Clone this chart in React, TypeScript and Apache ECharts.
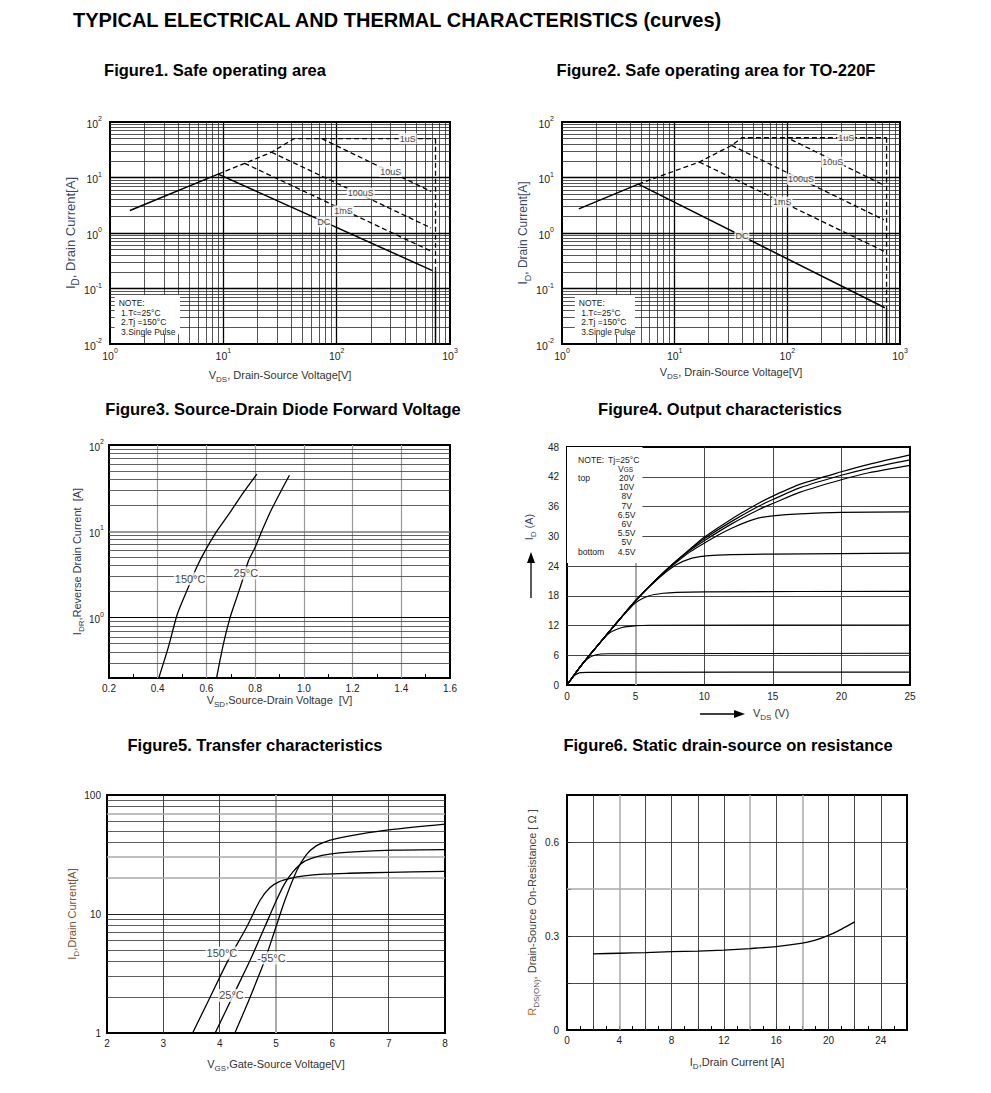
import React, { useEffect, useRef } from 'react';
import * as echarts from 'echarts';

const FONT = '"Liberation Sans", Arial, sans-serif';

// ---------- Figure 1: Safe operating area ----------
const f1DC = [[1.5, 2.55], [9, 11.5], [700, 0.21]];
const f1Envelope = [[9, 11.5], [15.4, 18], [26.6, 28.5], [42, 50], [745, 50]];
const f1VdssDashed = [[745, 50], [745, 0.21]];
const f1VdssSolid = [[745, 0.21], [745, 0.01]];
const f1_10us = [[74, 50], [682, 5.6]];
const f1_100us = [[26.6, 28.5], [682, 1.23]];
const f1_1ms = [[15.4, 18], [682, 0.47]];
const f1Labels: [number, number, string][] = [[423, 50, '1uS'], [300, 12.8, '10uS'], [163, 5.2, '100uS'], [115, 2.5, '1mS'], [77, 1.58, 'DC']];
const f1NoteBox = [[1.1, 0.076], [4.15, 0.015]];

// ---------- Figure 2: Safe operating area for TO-220F ----------
const f2DC = [[1.41, 2.72], [4.76, 7.6], [734, 0.045]];
const f2Envelope = [[4.76, 7.6], [16.5, 19], [32, 37.8], [39.5, 52], [760, 52]];
const f2VdssDashed = [[760, 52], [760, 0.045]];
const f2VdssSolid = [[760, 0.045], [760, 0.01]];
const f2_10us = [[108, 48], [719, 7.3]];
const f2_100us = [[32, 37.8], [719, 1.73]];
const f2_1ms = [[16.5, 19], [719, 0.47]];
const f2Labels: [number, number, string][] = [[333, 52, '1uS'], [253, 19, '10uS'], [132, 9.3, '100uS'], [90, 3.6, '1mS'], [39.5, 0.9, 'DC']];
const f2NoteBox = [[1.3, 0.076], [4.44, 0.015]];

// ---------- Figure 3: Source-Drain diode forward voltage ----------
const f3T150 = [[0.405, 0.203], [0.444, 0.459], [0.481, 1.11], [0.526, 2.26], [0.56, 3.84], [0.595, 5.98], [0.642, 10.0], [0.697, 16.6], [0.752, 28.2], [0.807, 45.9]];
const f3T25 = [[0.642, 0.203], [0.67, 0.5], [0.697, 1.0], [0.725, 1.73], [0.752, 2.94], [0.773, 4.58], [0.8, 6.54], [0.827, 10.0], [0.868, 18.1], [0.91, 30.7], [0.941, 44.7]];
const f3Labels: [number, number, string][] = [[0.533, 2.82, '150°C'], [0.762, 3.28, '25°C']];

// ---------- Figure 4: Output characteristics ----------
const f4_20V = [[0, 0], [1, 3.8], [2, 7.2], [3, 10.5], [4, 13.8], [5, 17], [6, 19.9], [7, 22.6], [8, 25.1], [9, 27.5], [10, 29.8], [12, 33.5], [14, 36.7], [15, 38.1], [17, 40.5], [20, 43], [22, 44.5], [25, 46.4]];
const f4_10V = [[0, 0], [1, 3.8], [2, 7.2], [3, 10.5], [4, 13.8], [5, 17], [6, 19.9], [7, 22.6], [8, 25.1], [9, 27.4], [10, 29.5], [12, 33.0], [14, 36.1], [15, 37.4], [17, 39.8], [20, 42.3], [22, 43.7], [25, 45.4]];
const f4_8V = [[0, 0], [1, 3.8], [2, 7.2], [3, 10.5], [4, 13.8], [5, 17], [6, 19.9], [7, 22.6], [8, 25.0], [9, 27.2], [10, 29.1], [12, 32.5], [14, 35.4], [15, 36.6], [17, 38.9], [20, 41.4], [22, 42.8], [25, 44.3]];
const f4_7V = [[0, 0], [1, 3.8], [2, 7.2], [3, 10.5], [4, 13.8], [5, 17], [6, 19.9], [7, 22.5], [8, 24.8], [9, 26.9], [10, 28.6], [11, 30.2], [12, 31.6], [13, 32.8], [14, 33.7], [15, 34.1], [17, 34.5], [20, 34.8], [25, 34.9]];
const f4_6V5 = [[0, 0], [1, 3.8], [2, 7.2], [3, 10.5], [4, 13.8], [5, 17], [6, 19.8], [7, 22.3], [8, 24.3], [9, 25.5], [10, 26.0], [11, 26.2], [12, 26.3], [15, 26.4], [20, 26.5], [25, 26.6]];
const f4_6V = [[0, 0], [1, 3.8], [2, 7.2], [3, 10.5], [4, 13.7], [5, 16.6], [6, 18.0], [7, 18.5], [8, 18.7], [10, 18.8], [25, 18.9]];
const f4_5V5 = [[0, 0], [1, 3.8], [2, 7.2], [3, 10.3], [4, 11.6], [5, 11.95], [6, 12.05], [25, 12.1]];
const f4_5V = [[0, 0], [1, 3.8], [1.5, 5.3], [2, 6.0], [2.5, 6.25], [3, 6.3], [25, 6.4]];
const f4_4V5 = [[0, 0], [0.5, 1.8], [0.8, 2.35], [1, 2.5], [1.5, 2.55], [25, 2.6]];
const f4Curves = [f4_20V, f4_10V, f4_8V, f4_7V, f4_6V5, f4_6V, f4_5V5, f4_5V, f4_4V5];
const f4VgsLabels = ['20V', '10V', '8V', '7V', '6.5V', '6V', '5.5V', '5V', '4.5V'];
const f4NoteBox = [[0, 48], [5.5, 24.6]];

// ---------- Figure 5: Transfer characteristics ----------
const f5T150 = [[3.52, 1], [3.83, 2.0], [4.15, 4.08], [4.48, 7.77], [4.72, 13.1], [4.89, 16.6], [5.05, 18.6], [5.25, 19.9], [5.5, 20.9], [5.84, 21.6], [6.3, 22.0], [7, 22.4], [8, 22.8]];
const f5T25 = [[3.92, 1], [4.24, 2.07], [4.54, 4.08], [4.8, 7.77], [5.01, 13.1], [5.15, 17.8], [5.3, 22.6], [5.49, 27.4], [5.7, 30.0], [5.95, 31.8], [6.31, 33.1], [7.08, 34.4], [8, 34.8]];
const f5Tm55 = [[4.27, 1], [4.54, 2.0], [4.8, 4.08], [4.98, 7.3], [5.16, 13.1], [5.37, 23.2], [5.54, 31.5], [5.7, 37.0], [5.9, 40.8], [6.15, 43.8], [6.49, 47.0], [7, 51.0], [8, 57]];
const f5Labels: [number, number, string][] = [[4.04, 4.7, '150°C'], [4.21, 2.07, '25°C'], [4.92, 4.27, '-55°C']];

// ---------- Figure 6: Static drain-source on resistance ----------
const f6Rds = [[2, 0.243], [4, 0.245], [6, 0.247], [8, 0.25], [10, 0.252], [12, 0.255], [14, 0.26], [16, 0.266], [18, 0.277], [19, 0.287], [20, 0.302], [21, 0.322], [22, 0.345]];

// ---------- helpers ----------
function logMinors(lo: number, hi: number) {
  const out: number[] = [];
  for (let e = lo; e < hi; e++) for (let d = 2; d <= 9; d++) out.push(+(d * Math.pow(10, e)).toPrecision(6));
  return out;
}
function range(a: number, b: number, step: number) {
  const out: number[] = [];
  for (let v = a; v <= b + 1e-9; v += step) out.push(+v.toFixed(6));
  return out;
}
const vLines = (vals: number[], color: string, width: number) => vals.map((v) => ({ xAxis: v, lineStyle: { color, width, type: 'solid' } }));
const hLines = (vals: number[], color: string, width: number) => vals.map((v) => ({ yAxis: v, lineStyle: { color, width, type: 'solid' } }));

function gridSeries(idx: number, items: any[]) {
  return {
    type: 'line', xAxisIndex: idx, yAxisIndex: idx, data: [], silent: true,
    markLine: { silent: true, z: 1, symbol: ['none', 'none'], animation: false, label: { show: false }, emphasis: { disabled: true }, data: items },
  };
}
function curve(idx: number, data: number[][], dashed = false, smooth: number | boolean = false, width = 1.3) {
  return {
    type: 'line', xAxisIndex: idx, yAxisIndex: idx, data, symbol: 'none', showSymbol: false, z: 3, silent: true,
    smooth,
    lineStyle: { color: '#000', width, type: dashed ? [5, 3] : 'solid' },
  };
}
function labels(idx: number, items: [number, number, string][], fontSize: number) {
  return {
    type: 'scatter', xAxisIndex: idx, yAxisIndex: idx, z: 4, silent: true, symbolSize: 1,
    itemStyle: { color: 'rgba(0,0,0,0)' },
    data: items.map(([x, y, t]) => ({ value: [x, y], name: t })),
    label: { show: true, position: 'inside', formatter: '{b}', color: '#111', fontSize, fontFamily: FONT, backgroundColor: '#fff', padding: [1, 1] },
  };
}
function boxSeries(idx: number, box: number[][], text: string, rich: any, padding: number[]) {
  return {
    type: 'line', xAxisIndex: idx, yAxisIndex: idx, data: [], silent: true,
    markArea: {
      silent: true, z: 2, itemStyle: { color: '#fff' },
      label: { show: true, position: 'insideTopLeft', distance: 0, padding, formatter: () => text, rich },
      data: [[{ coord: box[0] }, { coord: box[1] }]],
    },
  };
}

const sup = (v: number) => {
  const l = Math.log10(v);
  const e = Math.round(l);
  if (Math.abs(l - e) > 1e-6) return '';
  return `{b|10}{e|${e}}`;
};
const supRich = (fs: number) => ({
  b: { fontSize: fs, lineHeight: 14, verticalAlign: 'bottom', fontFamily: FONT, color: '#222' },
  e: { fontSize: 7, lineHeight: 8, verticalAlign: 'top', fontFamily: FONT, color: '#222' },
});
const nameRich = (color: string, fs = 11) => ({
  n: { fontSize: fs, lineHeight: fs + 3, verticalAlign: 'top', fontFamily: FONT, color },
  s: { fontSize: fs - 3, lineHeight: fs - 2, verticalAlign: 'bottom', fontFamily: FONT, color },
});

const noteRich = {
  a: { fontSize: 8.5, lineHeight: 9.6, fontFamily: FONT, color: '#222' },
  s: { fontSize: 6.5, lineHeight: 9.6, fontFamily: FONT, color: '#222' },
};
const noteText = '{a|NOTE:}\n{a| 1.T}{s|c}{a|=25°C}\n{a| 2.Tj =150°C}\n{a| 3.Single Pulse}';

const F4FS = 8.6;
const f4Rich = {
  n0: { width: 30, fontSize: F4FS, lineHeight: 9.2, fontFamily: FONT, color: '#222' },
  t: { fontSize: F4FS, lineHeight: 9.2, fontFamily: FONT, color: '#222' },
  sp: { width: 40, fontSize: F4FS, lineHeight: 9.2, fontFamily: FONT },
  v: { fontSize: F4FS, lineHeight: 9.2, fontFamily: FONT, color: '#222' },
  vs: { fontSize: 6.5, lineHeight: 8, verticalAlign: 'bottom', fontFamily: FONT, color: '#222' },
  l: { width: 36, fontSize: F4FS, lineHeight: 9.2, fontFamily: FONT, color: '#222' },
  r: { width: 24, align: 'center', fontSize: F4FS, lineHeight: 9.2, fontFamily: FONT, color: '#222' },
};
const f4NoteText = [
  '{n0|NOTE:}{t|Tj=25°C}',
  '{sp| }{v|V}{vs|GS}',
  ...f4VgsLabels.map((v, i) => `{l|${i === 0 ? 'top' : i === f4VgsLabels.length - 1 ? 'bottom' : ' '}}{r|${v}}`),
].join('\n');

function buildOption(): any {
  const grids = [
    { left: 110, top: 122, width: 340, height: 222 },
    { left: 562, top: 122, width: 338, height: 222 },
    { left: 109, top: 445, width: 341, height: 233 },
    { left: 567, top: 447, width: 343, height: 238 },
    { left: 107, top: 795, width: 338, height: 238 },
    { left: 567, top: 795, width: 340, height: 235 },
  ].map((g) => ({ ...g, show: true, borderColor: '#000', borderWidth: 2, backgroundColor: 'transparent' }));

  const baseLabel = { fontFamily: FONT, fontSize: 10, color: '#222' };
  const off = { show: false };

  const xAxis: any[] = [
    {
      gridIndex: 0, type: 'log', logBase: 10, min: 1, max: 1000, axisLine: off, axisTick: off, splitLine: off,
      axisLabel: { ...baseLabel, margin: 3, formatter: sup, rich: supRich(10.5) },
      name: '{n|V}{s|DS}{n|, Drain-Source Voltage[V]}', nameLocation: 'middle', nameGap: 25, nameTextStyle: { rich: nameRich('#333') },
    },
    {
      gridIndex: 1, type: 'log', logBase: 10, min: 1, max: 1000, axisLine: off, axisTick: off, splitLine: off,
      axisLabel: { ...baseLabel, margin: 3, formatter: sup, rich: supRich(10.5) },
      name: '{n|V}{s|DS}{n|, Drain-Source Voltage[V]}', nameLocation: 'middle', nameGap: 22, nameTextStyle: { rich: nameRich('#333') },
    },
    {
      gridIndex: 2, type: 'value', min: 0.2, max: 1.6, interval: 0.2, axisLine: off, splitLine: off,
      axisTick: { show: true, inside: true, length: 4, lineStyle: { color: '#000' } },
      minorTick: { show: true, splitNumber: 2, length: 4, lineStyle: { color: '#000' } },
      axisLabel: { ...baseLabel, margin: 5, formatter: (v: number) => v.toFixed(1) },
      name: '{n|V}{s|SD}{n|,Source-Drain Voltage  [V]}', nameLocation: 'middle', nameGap: 16, nameTextStyle: { rich: nameRich('#333') },
    },
    {
      gridIndex: 3, type: 'value', min: 0, max: 25, interval: 5, axisLine: off, axisTick: off, splitLine: off,
      axisLabel: { ...baseLabel, margin: 6 },
      name: '{n|V}{s|DS}{n| (V)}', nameLocation: 'middle', nameGap: 22, nameTextStyle: { rich: nameRich('#333'), padding: [0, 0, 0, 65] },
    },
    {
      gridIndex: 4, type: 'value', min: 2, max: 8, interval: 1, axisLine: off, axisTick: off, splitLine: off,
      axisLabel: { ...baseLabel, margin: 5 },
      name: '{n|V}{s|GS}{n|,Gate-Source Voltage[V]}', nameLocation: 'middle', nameGap: 25, nameTextStyle: { rich: nameRich('#333') },
    },
    {
      gridIndex: 5, type: 'value', min: 0, max: 26, interval: 2, axisLine: off, splitLine: off,
      axisTick: { show: true, inside: true, length: 4, lineStyle: { color: '#000' } },
      minorTick: { show: true, splitNumber: 2, length: 4, lineStyle: { color: '#000' } },
      axisLabel: { ...baseLabel, margin: 5, formatter: (v: number) => (Math.round(v) % 4 === 0 ? String(Math.round(v)) : '') },
      name: '{n|I}{s|D}{n|,Drain Current [A]}', nameLocation: 'middle', nameGap: 26, nameTextStyle: { rich: nameRich('#333') },
    },
  ];

  const yAxis: any[] = [
    {
      gridIndex: 0, type: 'log', logBase: 10, min: 0.01, max: 100, axisLine: off, axisTick: off, splitLine: off,
      axisLabel: { ...baseLabel, margin: 8, formatter: sup, rich: supRich(10.5) },
      name: '{n|I}{s|D}{n|, Drain Current[A]}', nameLocation: 'middle', nameGap: 27, nameTextStyle: { rich: nameRich('#3b4a6b', 13) },
    },
    {
      gridIndex: 1, type: 'log', logBase: 10, min: 0.01, max: 100, axisLine: off, axisTick: off, splitLine: off,
      axisLabel: { ...baseLabel, margin: 8, formatter: sup, rich: supRich(10.5) },
      name: '{n|I}{s|D}{n|, Drain Current[A]}', nameLocation: 'middle', nameGap: 30, nameTextStyle: { rich: nameRich('#3b4a6b', 12) },
    },
    {
      gridIndex: 2, type: 'log', logBase: 10, min: 0.2, max: 100, axisLine: off, axisTick: off, splitLine: off,
      axisLabel: { ...baseLabel, margin: 5, formatter: sup, rich: supRich(10) },
      name: '{n|I}{s|DR}{n|,Reverse Drain Current  [A]}', nameLocation: 'middle', nameGap: 24, nameTextStyle: { rich: nameRich('#333a4d') },
    },
    {
      gridIndex: 3, type: 'value', min: 0, max: 48, interval: 6, axisLine: off, axisTick: off, splitLine: off,
      axisLabel: { ...baseLabel, margin: 8 },
      name: '{n|I}{s|D}{n| (A)}', nameLocation: 'middle', nameGap: 30, nameTextStyle: { rich: nameRich('#3b4a6b'), padding: [0, 0, 0, 78] },
    },
    {
      gridIndex: 4, type: 'log', logBase: 10, min: 1, max: 100, axisLine: off, axisTick: off, splitLine: off,
      axisLabel: { ...baseLabel, margin: 6 },
      name: '{n|I}{s|D}{n|,Drain Current[A]}', nameLocation: 'middle', nameGap: 24, nameTextStyle: { rich: nameRich('#7a5535') },
    },
    {
      gridIndex: 5, type: 'value', min: 0, max: 0.75, interval: 0.15, axisLine: off, splitLine: off,
      axisTick: { show: true, inside: true, length: 4, lineStyle: { color: '#000' } },
      axisLabel: {
        ...baseLabel, margin: 8,
        formatter: (v: number) => { const k = Math.round(v / 0.15); return k % 2 === 0 ? (k === 0 ? '0' : v.toFixed(1)) : ''; },
      },
      name: '{r|R}{rs|DS(ON)}{n|, Drain-Source On-Resistance [ Ω ]}', nameLocation: 'middle', nameGap: 27,
      nameTextStyle: {
        rich: {
          ...nameRich('#444'),
          r: { fontSize: 11, lineHeight: 14, verticalAlign: 'top', fontFamily: FONT, color: '#b8741a' },
          rs: { fontSize: 8, lineHeight: 9, verticalAlign: 'bottom', fontFamily: FONT, color: '#555' },
        },
      },
    },
  ];

  const dark = '#2a2a2a';
  const series: any[] = [
    // Figure 1
    gridSeries(0, [
      ...vLines(logMinors(0, 3), dark, 0.8), ...vLines([10, 100], '#000', 1.3),
      ...hLines(logMinors(-2, 2), dark, 0.8), ...hLines([0.1, 1, 10], '#000', 1.3),
    ]),
    boxSeries(0, f1NoteBox, noteText, noteRich, [3, 0, 0, 4]),
    curve(0, f1DC, false, false, 1.5),
    curve(0, f1Envelope, true),
    curve(0, f1VdssDashed, true),
    curve(0, f1VdssSolid, false, false, 1.5),
    curve(0, f1_10us, true),
    curve(0, f1_100us, true),
    curve(0, f1_1ms, true),
    labels(0, f1Labels, 9),
    // Figure 2
    gridSeries(1, [
      ...vLines(logMinors(0, 3), dark, 0.8), ...vLines([10, 100], '#000', 1.3),
      ...hLines(logMinors(-2, 2), dark, 0.8), ...hLines([0.1, 1, 10], '#000', 1.3),
    ]),
    boxSeries(1, f2NoteBox, noteText, noteRich, [3, 0, 0, 4]),
    curve(1, f2DC, false, false, 1.5),
    curve(1, f2Envelope, true),
    curve(1, f2VdssDashed, true),
    curve(1, f2VdssSolid, false, false, 1.5),
    curve(1, f2_10us, true),
    curve(1, f2_100us, true),
    curve(1, f2_1ms, true),
    labels(1, f2Labels, 9),
    // Figure 3
    gridSeries(2, [
      ...vLines(range(0.4, 1.4, 0.2), '#9a9a9a', 1.2),
      ...hLines(logMinors(-1, 2).filter((v) => v > 0.25), '#3a3a3a', 0.8),
      ...hLines([1], '#000', 1.2), ...hLines([10], '#777', 1.6),
    ]),
    curve(2, f3T150, false, 0.25),
    curve(2, f3T25, false, 0.25),
    labels(2, f3Labels, 11),
    // Figure 4
    gridSeries(3, [
      ...vLines([10, 15, 20], '#333', 0.9), ...vLines([5], '#aaa', 2),
      ...hLines(range(6, 42, 6), '#333', 0.9),
    ]),
    boxSeries(3, f4NoteBox, f4NoteText, f4Rich, [8, 0, 0, 11]),
    ...f4Curves.map((c) => curve(3, c, false, 0.25, 1.2)),
    // Figure 5
    gridSeries(4, [
      ...vLines([3, 4, 6, 7], '#333', 0.9), ...vLines([5], '#aaa', 2),
      ...hLines(logMinors(0, 2).filter((v) => v !== 20 && v !== 30 && v !== 70), '#333', 0.8),
      ...hLines([20, 30, 70], '#aaa', 1.5), ...hLines([10], '#222', 1),
    ]),
    curve(4, f5T150, false, 0.3),
    curve(4, f5T25, false, 0.3),
    curve(4, f5Tm55, false, 0.3),
    labels(4, f5Labels, 11),
    // Figure 6
    gridSeries(5, [
      ...vLines([2, 6, 8, 10, 12, 16, 20, 22, 24], '#333', 0.9), ...vLines([4, 14, 18], '#aaa', 1.5),
      ...hLines([0.15, 0.3, 0.6], '#333', 0.9), ...hLines([0.45], '#aaa', 1.5),
    ]),
    curve(5, f6Rds, false, 0.25, 1.3),
  ];

  const titleFont = `bold 16.5px ${FONT}`;
  const t = (text: string, x: number, y: number, font = titleFont) => ({
    type: 'text', x, y, silent: true,
    style: { text, font, fill: '#000', textAlign: 'center', align: 'center', textVerticalAlign: 'middle', verticalAlign: 'middle' },
  });

  const graphic: any[] = [
    {
      type: 'text', x: 73, y: 20, silent: true,
      style: { text: 'TYPICAL ELECTRICAL AND THERMAL CHARACTERISTICS (curves)', font: `bold 20px ${FONT}`, fill: '#000', textAlign: 'left', align: 'left', textVerticalAlign: 'middle', verticalAlign: 'middle' },
    },
    t('Figure1. Safe operating area', 215, 70),
    t('Figure2. Safe operating area for TO-220F', 716, 70),
    t('Figure3. Source-Drain Diode Forward Voltage', 283, 409),
    t('Figure4. Output characteristics', 720, 409),
    t('Figure5. Transfer characteristics', 255, 745),
    t('Figure6. Static drain-source on resistance', 728, 745),
    // arrows of figure 4 axis names
    { type: 'line', silent: true, shape: { x1: 531, y1: 598, x2: 531, y2: 560 }, style: { stroke: '#000', lineWidth: 1.3 } },
    { type: 'polygon', silent: true, shape: { points: [[527, 563], [535, 563], [531, 552]] }, style: { fill: '#000' } },
    { type: 'line', silent: true, shape: { x1: 700, y1: 714, x2: 736, y2: 714 }, style: { stroke: '#000', lineWidth: 1.3 } },
    { type: 'polygon', silent: true, shape: { points: [[734, 710], [734, 718], [745, 714]] }, style: { fill: '#000' } },
  ];

  return { animation: false, backgroundColor: '#fff', grid: grids, xAxis, yAxis, series, graphic };
}

export default function App() {
  const ref = useRef<HTMLDivElement>(null);
  useEffect(() => {
    document.body.style.margin = '0';
    const chart = echarts.init(ref.current as HTMLDivElement, undefined, { renderer: 'svg' });
    chart.setOption(buildOption());
    return () => chart.dispose();
  }, []);
  return <div ref={ref} style={{ width: 991, height: 1093 }} />;
}
